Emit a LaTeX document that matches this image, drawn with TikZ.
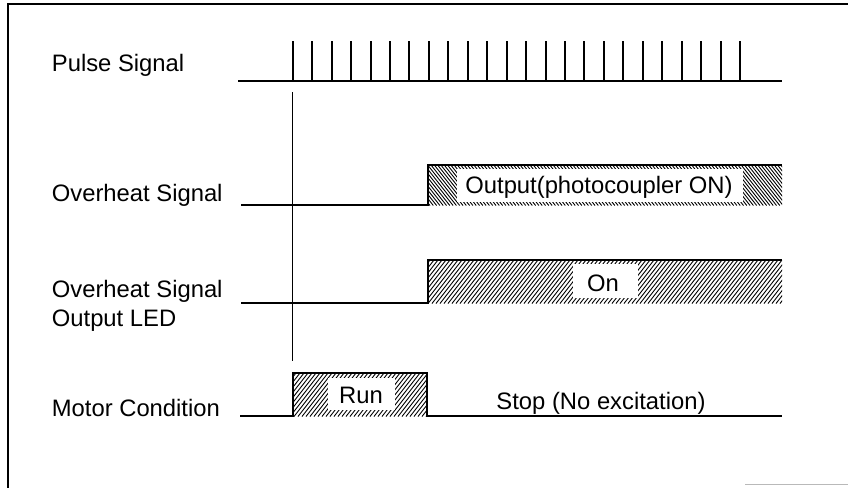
\documentclass[tikz,border=0pt]{standalone}
\usepackage{fontspec}
\setmainfont{Liberation Sans}
\begin{document}
\begin{tikzpicture}[x=0.5pt,y=-0.5pt,
  sig/.style={line width=1pt, line join=miter},
  hatchline/.style={line width=0.45pt},
  txt/.style={inner sep=0pt, font=\fontsize{11.9}{14.5}\selectfont},
  lbl/.style={txt, anchor=base west}]
\useasboundingbox (0,0) rectangle (848,488);
% frame
\draw[line width=1pt] (8,488) -- (8,3.5) -- (848,3.5);
\draw[gray!55, line width=0.6pt] (745,484.5) -- (848,484.5);
% labels
\node[lbl] (lpulse) at (51.5,71) {Pulse Signal};
\node[lbl] (lover) at (51.5,201) {Overheat Signal};
\node[lbl] (lled1) at (51.5,297) {Overheat Signal};
\node[lbl] (lled2) at (51.5,326) {Output LED};
\node[lbl] (lmotor) at (51.5,416) {Motor Condition};
% pulse signal
\draw[sig] (238,81) -- (782,81);
\foreach \k in {0,...,23} \draw[sig] ({292.7+19.45*\k},81) -- ++(0,-40);
% marker line
\draw[line width=0.55pt] (292.7,92) -- (292.7,361);
% overheat signal
\begin{scope}
\clip (428,165) rectangle (782,205.5);
\foreach \i in {0,...,120} \draw[hatchline] ({398+3.3*\i},165) -- ++(32,40.5);
\end{scope}
\fill[white] (456.7,168.5) rectangle (743,201.5);
\draw[sig] (241,205) -- (428,205) -- (428,165) -- (782,165);
\node[txt, anchor=base] (tover) at (599,193) {Output(photocoupler ON)};
% overheat LED
\begin{scope}
\clip (428,260) rectangle (782,303.5);
\foreach \i in {0,...,100} \draw[hatchline] ({396+4*\i},303.5) -- ++(34,-43.5);
\end{scope}
\fill[white] (573,263.5) rectangle (638,298);
\draw[sig] (241,303) -- (428,303) -- (428,260) -- (782,260);
\node[txt, anchor=base] (tled) at (603,291) {On};
% motor condition
\begin{scope}
\clip (293,373) rectangle (427,416.5);
\foreach \i in {0,...,45} \draw[hatchline] ({258+4*\i},416.5) -- ++(34,-43.5);
\end{scope}
\fill[white] (328,377.5) rectangle (395,410);
\draw[sig] (240,416) -- (293,416) -- (293,373) -- (427,373) -- (427,416) -- (782,416);
\node[txt, anchor=base] (trun) at (361,403.5) {Run};
\node[txt, anchor=base] (tstop) at (601,409) {Stop (No excitation)};
\end{tikzpicture}
\end{document}
